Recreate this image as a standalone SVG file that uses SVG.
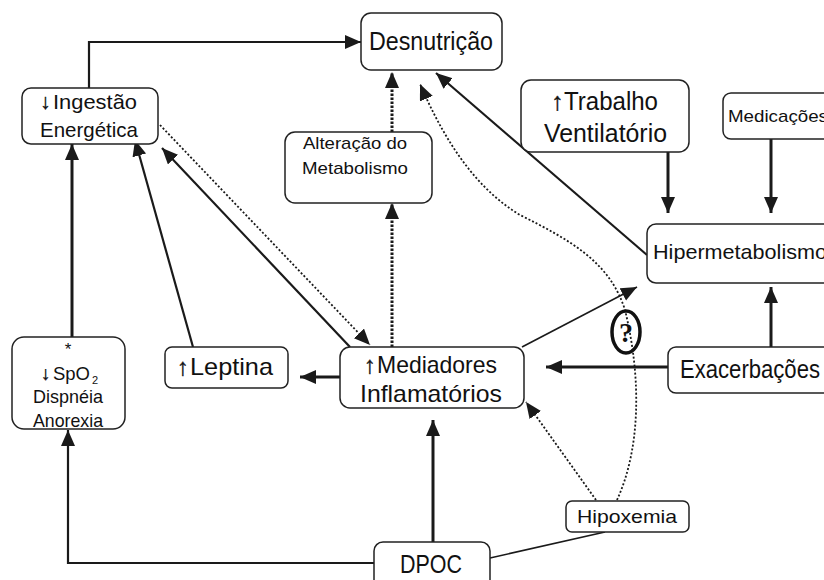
<svg xmlns="http://www.w3.org/2000/svg" width="824" height="580" viewBox="0 0 824 580">
<style>
.box{fill:#fff;stroke:#222;stroke-width:1.5}
.t{font-family:"Liberation Sans",Arial,sans-serif;fill:#111}
.ar{font-family:"Liberation Sans",Arial,sans-serif;fill:#111;stroke:#111;stroke-width:0.4}
.c{fill:none;stroke:#1a1a1a}
.thick{stroke-width:3}
.mid{stroke-width:2.2}
.thin{stroke-width:1.6}
.dotT{stroke-width:3;stroke-dasharray:2.5 1.5}
.dot{stroke-width:1.8;stroke-dasharray:2 2}
</style>
<defs>
<marker id="ah" markerUnits="userSpaceOnUse" markerWidth="18" markerHeight="16" refX="16" refY="7" orient="auto">
<path d="M0,0 L16,7 L0,14 z" fill="#1a1a1a"/>
</marker>
</defs>
<rect width="824" height="580" fill="#fff"/>
<g id="connectors">
<path class="c mid" d="M89,88 V42 H361" marker-end="url(#ah)"/>
<path class="c dotT" d="M392,132 V72" marker-end="url(#ah)"/>
<path class="c dotT" d="M392,347 V203" marker-end="url(#ah)"/>
<path class="c mid" d="M647,255 L436,73" marker-end="url(#ah)"/>
<path class="c dot" d="M617,500 C640,450 642,380 625,310 C610,262 570,240 520,215 C470,185 440,130 420,84" marker-end="url(#ah)"/>
<path class="c thick" d="M668,152 V213" marker-end="url(#ah)"/>
<path class="c thick" d="M771,139 V213" marker-end="url(#ah)"/>
<path class="c thick" d="M771,347 V287" marker-end="url(#ah)"/>
<path class="c thick" d="M668,367 H546" marker-end="url(#ah)"/>
<path class="c thin" d="M522,347 L637,287" marker-end="url(#ah)"/>
<path class="c thick" d="M340,377 H300" marker-end="url(#ah)"/>
<path class="c mid" d="M193,347 L135,140" marker-end="url(#ah)"/>
<path class="c mid" d="M350,347 L162,148" marker-end="url(#ah)"/>
<path class="c dot" d="M160,125 L370,345" marker-end="url(#ah)"/>
<path class="c thick" d="M72,337 V144" marker-end="url(#ah)"/>
<path class="c mid" d="M374,563 H68 V430" marker-end="url(#ah)"/>
<path class="c thick" d="M433,542 V420" marker-end="url(#ah)"/>
<path class="c thin" d="M490,558 L605,532"/>
<path class="c dot" d="M596,500 L526,402" marker-end="url(#ah)"/>
</g>
<g id="desnutricao">
<rect class="box" x="361" y="13" width="141" height="57" rx="10"/>
<text class="t" x="369" y="50" font-size="25" textLength="124" lengthAdjust="spacingAndGlyphs">Desnutrição</text>
</g>
<g id="ingestao">
<rect class="box" x="22" y="88" width="136" height="56" rx="9"/>
<text class="ar" x="40" y="109" font-size="21">↓</text>
<text class="t" x="53" y="109" font-size="21" textLength="84" lengthAdjust="spacingAndGlyphs">Ingestão</text>
<text class="t" x="40" y="137" font-size="21" textLength="98" lengthAdjust="spacingAndGlyphs">Energética</text>
</g>
<g id="alteracao">
<rect class="box" x="285" y="132" width="147" height="71" rx="10"/>
<text class="t" x="303" y="149" font-size="17" textLength="104" lengthAdjust="spacingAndGlyphs">Alteração do</text>
<text class="t" x="302" y="174" font-size="17" textLength="106" lengthAdjust="spacingAndGlyphs">Metabolismo</text>
</g>
<g id="trabalho">
<rect class="box" x="521" y="80" width="168" height="72" rx="10"/>
<text class="ar" x="551" y="110" font-size="25">↑</text>
<text class="t" x="564" y="110" font-size="25" textLength="94" lengthAdjust="spacingAndGlyphs">Trabalho</text>
<text class="t" x="544" y="142" font-size="25" textLength="123" lengthAdjust="spacingAndGlyphs">Ventilatório</text>
</g>
<g id="medicacoes">
<rect class="box" x="723" y="93" width="120" height="46" rx="8"/>
<text class="t" x="728" y="122" font-size="17" textLength="100" lengthAdjust="spacingAndGlyphs">Medicações</text>
</g>
<g id="hipermetabolismo">
<rect class="box" x="647" y="224" width="200" height="59" rx="9"/>
<text class="t" x="653" y="259" font-size="21" textLength="174" lengthAdjust="spacingAndGlyphs">Hipermetabolismo</text>
</g>
<g id="exacerbacoes">
<rect class="box" x="668" y="347" width="190" height="46" rx="8"/>
<text class="t" x="680" y="378" font-size="25" textLength="140" lengthAdjust="spacingAndGlyphs">Exacerbações</text>
</g>
<g id="mediadores">
<rect class="box" x="340" y="347" width="184" height="61" rx="10"/>
<text class="ar" x="364" y="373" font-size="24">↑</text>
<text class="t" x="377" y="373" font-size="24" textLength="120" lengthAdjust="spacingAndGlyphs">Mediadores</text>
<text class="t" x="360" y="402" font-size="24" textLength="142" lengthAdjust="spacingAndGlyphs">Inflamatórios</text>
</g>
<g id="leptina">
<rect class="box" x="165" y="347" width="123" height="41" rx="7"/>
<text class="ar" x="177" y="375" font-size="24">↑</text>
<text class="t" x="190" y="375" font-size="24" textLength="83" lengthAdjust="spacingAndGlyphs">Leptina</text>
</g>
<g id="spo2">
<rect class="box" x="12" y="337" width="113" height="92" rx="12"/>
<text class="t" x="68" y="355" font-size="17" text-anchor="middle">*</text>
<text class="ar" x="41" y="380" font-size="19">↓</text>
<text class="t" x="53" y="380" font-size="19" textLength="37" lengthAdjust="spacingAndGlyphs">SpO</text>
<text class="t" x="92" y="384" font-size="11">2</text>
<text class="t" x="33" y="403" font-size="19" textLength="70" lengthAdjust="spacingAndGlyphs">Dispnéia</text>
<text class="t" x="33" y="427" font-size="19" textLength="70" lengthAdjust="spacingAndGlyphs">Anorexia</text>
</g>
<g id="hipoxemia">
<rect class="box" x="566" y="501" width="123" height="31" rx="6"/>
<text class="t" x="577" y="523" font-size="19" textLength="100" lengthAdjust="spacingAndGlyphs">Hipoxemia</text>
</g>
<g id="dpoc">
<rect class="box" x="374" y="542" width="116" height="50" rx="9"/>
<text class="t" x="400" y="573" font-size="25" textLength="62" lengthAdjust="spacingAndGlyphs">DPOC</text>
</g>
<g id="question">
<ellipse cx="626" cy="332" rx="14" ry="21" fill="none" stroke="#111" stroke-width="3.5"/>
<text x="626" y="342" font-size="28" font-weight="bold" text-anchor="middle" font-family="'Liberation Serif',serif" fill="#111">?</text>
</g>
</svg>
